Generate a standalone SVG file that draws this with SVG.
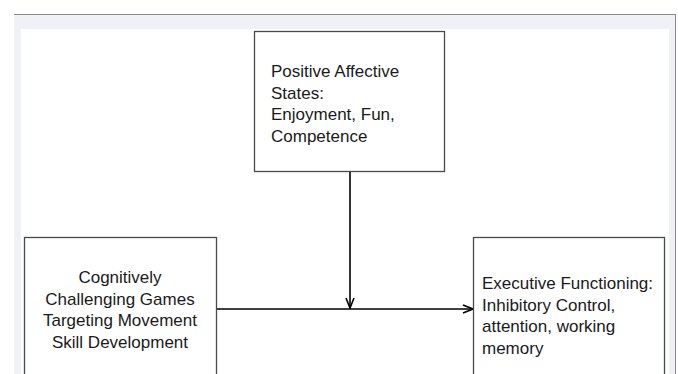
<svg xmlns="http://www.w3.org/2000/svg" width="678" height="374" viewBox="0 0 678 374">
  <defs>
    <style>
      .box { fill: #ffffff; stroke: #4a4a4a; stroke-width: 1.3; }
      .txt { font-family: "Liberation Sans", Arial, sans-serif; font-size: 17px; fill: #1a1a1a; }
      .conn { stroke: #000000; stroke-width: 1.6; fill: none; }
    </style>
    <marker id="arrow" viewBox="0 0 12 10" refX="11" refY="5" markerWidth="12" markerHeight="10" markerUnits="userSpaceOnUse" orient="auto">
      <path d="M1,1 L11,5 L1,9" fill="none" stroke="#000000" stroke-width="1.6"/>
    </marker>
  </defs>

  <rect x="0" y="0" width="678" height="374" fill="#ffffff"/>
  <!-- page frame -->
  <rect x="14" y="14" width="662" height="360" fill="#f0f1f6"/>
  <rect x="21" y="29" width="648" height="345" fill="#ffffff"/>
  <line x1="14" y1="14.5" x2="676" y2="14.5" stroke="#8a8a8a" stroke-width="1"/>
  <line x1="675.5" y1="14" x2="675.5" y2="374" stroke="#8a8a8a" stroke-width="1"/>

  <g id="connectors">
    <line class="conn" x1="216" y1="309" x2="473" y2="309" marker-end="url(#arrow)"/>
    <line class="conn" x1="350" y1="172" x2="350" y2="308" marker-end="url(#arrow)"/>
  </g>

  <g id="node-positive">
    <rect class="box" x="254.5" y="31.5" width="190" height="140"/>
    <text class="txt" x="271" y="77">Positive Affective</text>
    <text class="txt" x="271" y="98.5">States:</text>
    <text class="txt" x="271" y="120">Enjoyment, Fun,</text>
    <text class="txt" x="271" y="141.5">Competence</text>
  </g>

  <g id="node-games">
    <rect class="box" x="24.5" y="237.5" width="192" height="140"/>
    <text class="txt" x="120" y="283" text-anchor="middle">Cognitively</text>
    <text class="txt" x="120" y="304.5" text-anchor="middle">Challenging Games</text>
    <text class="txt" x="120" y="326" text-anchor="middle">Targeting Movement</text>
    <text class="txt" x="120" y="347.5" text-anchor="middle">Skill Development</text>
  </g>

  <g id="node-executive">
    <rect class="box" x="473.5" y="237.5" width="191" height="140"/>
    <text class="txt" x="482" y="289">Executive Functioning:</text>
    <text class="txt" x="482" y="310.5">Inhibitory Control,</text>
    <text class="txt" x="482" y="332">attention, working</text>
    <text class="txt" x="482" y="353.5">memory</text>
  </g>
</svg>
